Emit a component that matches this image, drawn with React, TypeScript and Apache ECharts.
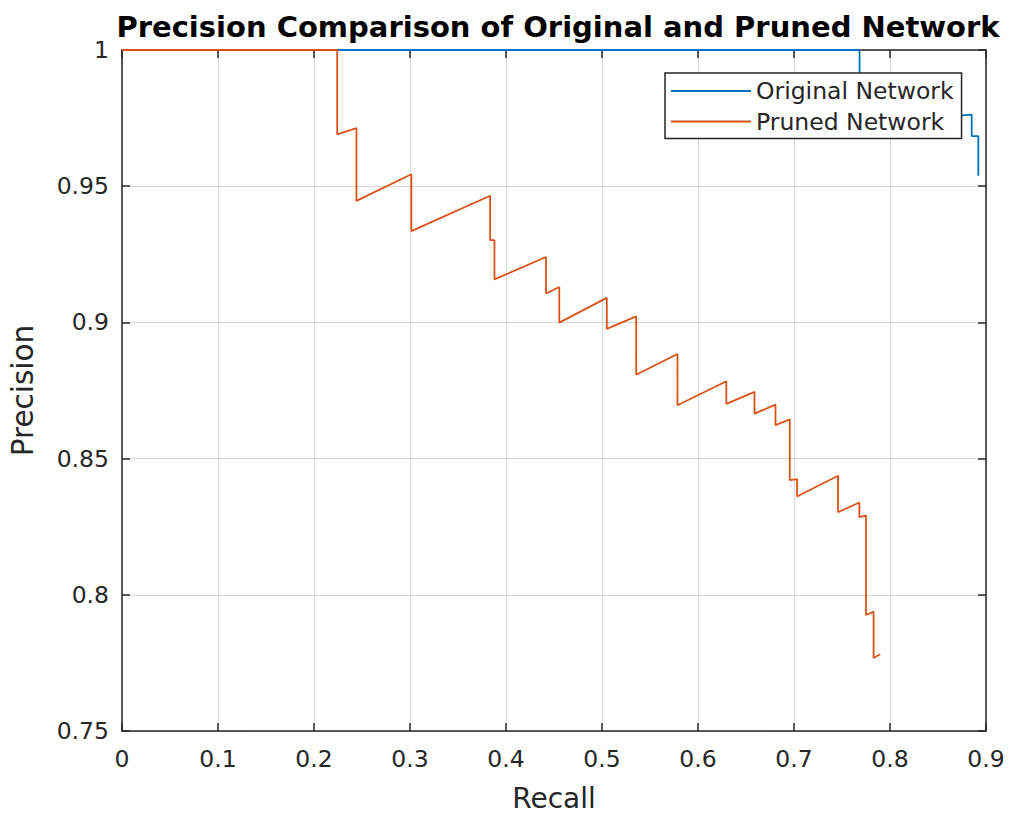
import React, { useEffect, useRef } from "react";
import * as echarts from "echarts";

const xTicks = [0, 0.1, 0.2, 0.3, 0.4, 0.5, 0.6, 0.7, 0.8, 0.9];
const yTicks = [0.75, 0.8, 0.85, 0.9, 0.95, 1];

const originalRecall = [0, 0.7683, 0.7683, 0.80, 0.80, 0.8851, 0.8851, 0.892, 0.892];
const originalPrecision = [1, 1, 0.982, 0.985, 0.974, 0.9763, 0.9684, 0.9684, 0.9538];

const prunedRecall = [
  0, 0.2242, 0.2242, 0.2442, 0.2442, 0.3014, 0.3014, 0.3835, 0.3835, 0.388, 0.388,
  0.4417, 0.4417, 0.4555, 0.4555, 0.505, 0.505, 0.5356, 0.5356, 0.5786, 0.5786,
  0.6295, 0.6295, 0.6589, 0.6589, 0.6807, 0.6807, 0.6956, 0.6956, 0.7032, 0.7032,
  0.7459, 0.7459, 0.7681, 0.7681, 0.775, 0.775, 0.7829, 0.7829, 0.7898,
];
const prunedPrecision = [
  1, 1, 0.969, 0.9713, 0.9446, 0.9544, 0.9335, 0.9465, 0.9302, 0.9302, 0.9158,
  0.924, 0.9106, 0.913, 0.8999, 0.909, 0.8976, 0.9022, 0.8808, 0.8884, 0.8696,
  0.8784, 0.8701, 0.8745, 0.8665, 0.8698, 0.8623, 0.8644, 0.8421, 0.8425, 0.8361,
  0.8437, 0.8303, 0.8339, 0.8285, 0.8291, 0.7926, 0.7938, 0.7768, 0.7782,
];

const seriesNames = ["Original Network", "Pruned Network"];
const seriesColors = ["#0072BD", "#D95319"];

const FONT = "DejaVu Sans";
const AX = "#262626";

export default function App() {
  const ref = useRef<HTMLDivElement>(null);
  useEffect(() => {
    if (!ref.current) return;
    const chart = echarts.init(ref.current, null, { renderer: "svg" });
    const xMin = xTicks[0], xMax = xTicks[xTicks.length - 1];
    const yMin = yTicks[0], yMax = yTicks[yTicks.length - 1];
    const axisLine = { show: true, onZero: false, lineStyle: { color: AX, width: 1.5 } };
    const axisTick = { show: true, inside: true, length: 8, lineStyle: { color: AX, width: 1.5 } };
    chart.setOption({
      animation: false,
      backgroundColor: "#ffffff",
      title: {
        text: "Precision Comparison of Original and Pruned Network",
        left: 553,
        top: 7,
        textAlign: "center",
        textStyle: { fontFamily: FONT, fontSize: 29, fontWeight: "bold", color: "#000" },
      },
      legend: {
        orient: "vertical",
        left: 665,
        top: 73,
        data: seriesNames,
        icon: "rect",
        itemWidth: 80,
        itemHeight: 2,
        itemGap: 6.5,
        padding: [6, 8, 5, 6],
        borderColor: "#262626",
        borderWidth: 1.5,
        backgroundColor: "#ffffff",
        textStyle: { fontFamily: FONT, fontSize: 23.5, color: AX },
      },
      grid: { left: 120, right: 23, top: 50, bottom: 82, containLabel: false },
      xAxis: [
        {
          type: "value",
          min: xMin,
          max: xMax,
          interval: 0.1,
          position: "bottom",
          name: "Recall",
          nameLocation: "middle",
          nameGap: 53,
          nameTextStyle: { fontFamily: FONT, fontSize: 28, color: AX },
          axisLine,
          axisTick,
          axisLabel: { fontFamily: FONT, fontSize: 23.5, color: AX, margin: 16 },
          splitLine: { show: true, lineStyle: { color: "#d9d9d9", width: 1 } },
        },
        {
          type: "value",
          min: xMin,
          max: xMax,
          interval: 0.1,
          position: "top",
          axisLine,
          axisTick,
          axisLabel: { show: false },
          splitLine: { show: false },
        },
      ],
      yAxis: [
        {
          type: "value",
          min: yMin,
          max: yMax,
          interval: 0.05,
          position: "left",
          name: "Precision",
          nameLocation: "middle",
          nameGap: 84,
          nameTextStyle: { fontFamily: FONT, fontSize: 29.5, color: AX },
          axisLine,
          axisTick,
          axisLabel: { fontFamily: FONT, fontSize: 23.5, color: AX, margin: 13 },
          splitLine: { show: true, lineStyle: { color: "#d9d9d9", width: 1 } },
        },
        {
          type: "value",
          min: yMin,
          max: yMax,
          interval: 0.05,
          position: "right",
          axisLine,
          axisTick,
          axisLabel: { show: false },
          splitLine: { show: false },
        },
      ],
      series: [
        {
          name: seriesNames[0],
          type: "line",
          data: originalRecall.map((r, i) => [r, originalPrecision[i]]),
          showSymbol: false,
          symbol: "none",
          clip: false,
          lineStyle: { color: seriesColors[0], width: 1.8 },
          itemStyle: { color: seriesColors[0] },
        },
        {
          name: seriesNames[1],
          type: "line",
          data: prunedRecall.map((r, i) => [r, prunedPrecision[i]]),
          showSymbol: false,
          symbol: "none",
          clip: false,
          lineStyle: { color: seriesColors[1], width: 1.8 },
          itemStyle: { color: seriesColors[1] },
        },
      ],
    });
    return () => chart.dispose();
  }, []);
  return (
    <div
      ref={ref}
      style={{ position: "fixed", left: 0, top: 0, width: 1009, height: 817, background: "#fff" }}
    />
  );
}
